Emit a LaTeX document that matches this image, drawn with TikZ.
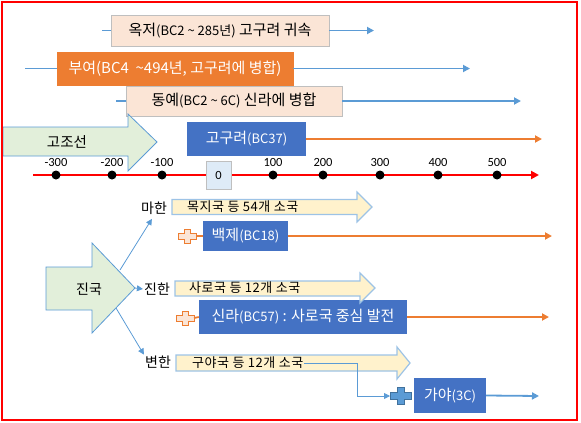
\documentclass[tikz,border=0pt]{standalone}
\usepackage{fontspec}
\setmainfont{Noto Sans CJK KR}
\newfontfamily\numfont{Carlito}
\usetikzlibrary{arrows.meta}

\definecolor{peach}{HTML}{FBE5D6}
\definecolor{boxorange}{HTML}{ED7D31}
\definecolor{boxblue}{HTML}{4472C4}
\definecolor{lineblue}{HTML}{5B9BD5}
\definecolor{palegreen}{HTML}{E2EFDA}
\definecolor{paleyellow}{HTML}{FFF2CC}
\definecolor{paleblue}{HTML}{DEEBF7}
\definecolor{boxgray}{HTML}{BFBFBF}
\definecolor{darkblue}{HTML}{41719C}

\newcommand\sm[1]{{\fontsize{13}{14}\selectfont #1}}

\tikzset{
  pics/crossmark/.style={code={
    \path[pic actions] (-3,-7) -- (3,-7) -- (3,-3) -- (9,-3) -- (9,3) -- (3,3)
      -- (3,7) -- (-3,7) -- (-3,3) -- (-9,3) -- (-9,-3) -- (-3,-3) -- cycle;}},
}

\begin{document}
\begin{tikzpicture}[x=1pt,y=-1pt,
  every node/.style={inner sep=1pt},
  peachbox/.style={draw=boxgray, fill=peach, minimum height=31pt, font=\fontsize{15}{16}\selectfont},
  bluebox/.style={fill=boxblue, text=white, font=\fontsize{15}{16}\selectfont},
  bline/.style={lineblue, line width=1.8pt},
  barrow/.style={bline, -{Triangle[length=7pt,width=7pt]}},
  oline/.style={boxorange, line width=1.8pt},
  oarrow/.style={oline, -{Triangle[length=7pt,width=7pt]}},
  thinarrow/.style={lineblue, line width=0.8pt, -{Triangle[length=6pt,width=6pt]}},
  greenarrow/.style={draw=lineblue, fill=palegreen, line width=0.8pt},
  yellowarrow/.style={draw=lineblue!60, fill=paleyellow, line width=1.2pt},
  yeardot/.style={circle, fill=black, minimum size=9pt, inner sep=0pt},
  numlab/.style={font=\numfont\fontsize{12.5}{14}\selectfont},
  kingdom/.style={font=\fontsize{14}{16}\selectfont},
  smallnation/.style={font=\fontsize{13}{14}\selectfont\addfontfeature{LetterSpace=4}, anchor=west},
]
\useasboundingbox (0,0) rectangle (581,423);

% 옥저, 부여, 동예
\node[peachbox, minimum width=218pt] (okjeo) at (220,30.5) {옥저\sm{(BC2 \textasciitilde{} 285년)} 고구려 귀속};
\node[peachbox, fill=boxorange, draw=boxorange, text=white, minimum width=236pt, minimum height=33pt] (buyeo) at (175,68.5) {부여(BC4 \ \textasciitilde494년, 고구려에 병합)};
\node[peachbox, minimum width=216pt, minimum height=30pt] (dongye) at (234,101) {동예\sm{(BC2 \textasciitilde{} 6C)} 신라에 병합};
\coordinate (okjeoL) at (102,30.5);
\coordinate (okjeoR) at (374,30.5);
\coordinate (buyeoL) at (25,68.5);
\coordinate (buyeoR) at (470,68.5);
\coordinate (dongyeL) at (116,101);
\coordinate (dongyeR) at (521,101);
\draw[bline] (okjeoL) -- (okjeo.west);
\draw[barrow] (okjeo.east) -- (okjeoR);
\draw[bline] (buyeoL) -- (buyeo.west);
\draw[barrow] (buyeo.east) -- (buyeoR);
\draw[bline] (dongyeL) -- (dongye.west);
\draw[barrow] (dongye.east) -- (dongyeR);

% 고조선, 고구려
\draw[greenarrow] (3,127) -- (128,127) -- (128,114) -- (157,142) -- (128,171) -- (128,156) -- (3,156) -- cycle;
\node[font=\fontsize{14.5}{16}\selectfont] (gojoseon) at (67,142) {고조선};
\node[bluebox, minimum width=119pt, minimum height=34pt] (goguryeo) at (246.5,139) {고구려\sm{(BC37)}};
\coordinate (goguryeoR) at (542,139);
\draw[oarrow] (goguryeo.east) -- (goguryeoR);

% timeline
\coordinate (lineL) at (33,175);
\coordinate (lineR) at (539,175);
\draw[red, line width=2.2pt, -{Triangle[length=8pt,width=8pt]}] (lineL) -- (lineR);
\foreach \x/\yr [count=\i] in {56/-300,112/-200,162/-100,273/100,323/200,380/300,438/400,497/500} {
  \node[yeardot] (year\i) at (\x,175) {};
  \node[numlab] (yearlab\i) at (\x,162) {\yr};
}
\node[draw=boxgray, fill=paleblue, minimum width=25pt, minimum height=28pt, numlab] (zero) at (218.5,175) {0};

% 진국
\draw[greenarrow] (46,267) -- (92,267) -- (92,243) -- (135,288) -- (92,333) -- (92,310) -- (46,310) -- cycle;
\coordinate (jinTip) at (135,288);
\coordinate (jinUp) at (120,270);
\coordinate (jinDown) at (116,308);
\node[kingdom] (jinguk) at (89,289) {진국};
\node[kingdom] (mahan) at (154,208) {마한};
\node[kingdom] (jinhan) at (157,289) {진한};
\node[kingdom] (byeonhan) at (158,362) {변한};
\draw[thinarrow, shorten >=4pt] (jinUp) -- (mahan.south);
\draw[thinarrow] (jinTip) -- (jinhan.west);
\draw[thinarrow] (jinDown) -- (byeonhan.north west);

% 백제, 신라
\pic[draw=boxorange, fill=peach, line width=1pt] at (187,236) {crossmark};
\coordinate (baekjePlus) at (196,236);
\node[bluebox, minimum width=85pt, minimum height=30pt] (baekje) at (245.5,236) {백제\sm{(BC18)}};
\draw[oline] (baekjePlus) -- (baekje.west);
\coordinate (baekjeR) at (552,236);
\draw[oarrow] (baekje.east) -- (baekjeR);

\pic[draw=boxorange, fill=peach, line width=1pt] at (185,318) {crossmark};
\coordinate (sillaPlus) at (194,318);
\node[bluebox, minimum width=208pt, minimum height=34pt] (silla) at (303,317) {신라\sm{(BC57)} : 사로국 중심 발전};
\draw[oline] (sillaPlus) -- (silla.west);
\coordinate (sillaR) at (549,317);
\draw[oarrow] (silla.east) -- (sillaR);

% 소국
\draw[yellowarrow] (172,199.5) -- (357,199.5) -- (357,192) -- (372,207) -- (357,222) -- (357,214.5) -- (172,214.5) -- cycle;
\draw[yellowarrow] (175,281) -- (360,281) -- (360,273) -- (375,288) -- (360,303) -- (360,296) -- (175,296) -- cycle;
\draw[yellowarrow] (176,355) -- (397,355) -- (397,347) -- (410,363) -- (397,379) -- (397,371) -- (176,371) -- cycle;
\node[smallnation] (mokji) at (186,207) {목지국 등 54개 소국};
\node[smallnation] (saro) at (188,288) {사로국 등 12개 소국};
\node[smallnation] (guya) at (191,363) {구야국 등 12개 소국};

% 가야
\node[bluebox, minimum width=72pt, minimum height=35pt] (gaya) at (450,395.5) {가야\sm{(3C)}};
\pic[draw=darkblue, fill=lineblue, line width=0.8pt, scale=1.2] at (401,396) {crossmark};
\coordinate (gayaTurn) at (357,396);
\coordinate (gayaIn) at (390,396);
\draw[thinarrow] (guya.east) -| (gayaTurn) -- (gayaIn);
\coordinate (gayaR) at (539,396);
\draw[barrow] (gaya.east) -- (gayaR);

\draw[red, line width=2pt] (2,2) rectangle (577,420);
\end{tikzpicture}
\end{document}
